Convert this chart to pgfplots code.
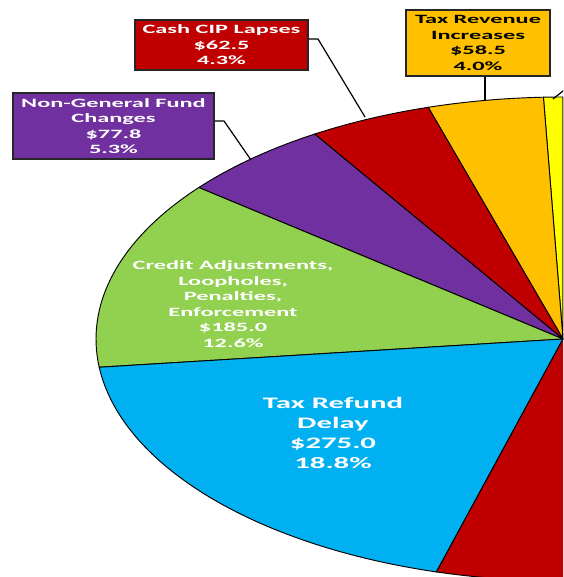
\documentclass[border=0pt]{standalone}
\usepackage{pgfplots}
\pgfplotsset{compat=1.18}
\usepackage{fontspec}
\setmainfont{Carlito}
\newfontfamily\lbl[FakeStretch=1.92]{Carlito}
\definecolor{cyel}{HTML}{FFFF00}
\definecolor{corg}{HTML}{FFC000}
\definecolor{cred}{HTML}{C00000}
\definecolor{cpur}{HTML}{7030A0}
\definecolor{cgrn}{HTML}{92D050}
\definecolor{cblu}{HTML}{00B0F0}
\definecolor{cgry}{HTML}{A5A5A5}
\begin{document}
\begin{tikzpicture}
% slice values ($ millions), counter-clockwise from 12 o'clock
\def\vYel{9.8}
\def\vOrg{58.5}
\def\vRed{62.5}
\def\vPur{77.8}
\def\vGrn{185.0}
\def\vBlu{275.0}
\def\vDrd{300.0}
\def\vOth{496.4}
\pgfmathsetmacro{\T}{\vYel+\vOrg+\vRed+\vPur+\vGrn+\vBlu+\vDrd+\vOth}
\pgfmathsetmacro{\aA}{90}
\pgfmathsetmacro{\aB}{\aA+\vYel/\T*360}
\pgfmathsetmacro{\aC}{\aB+\vOrg/\T*360}
\pgfmathsetmacro{\aD}{\aC+\vRed/\T*360}
\pgfmathsetmacro{\aE}{\aD+\vPur/\T*360}
\pgfmathsetmacro{\aF}{\aE+\vGrn/\T*360}
\pgfmathsetmacro{\aG}{\aF+\vBlu/\T*360}
\pgfmathsetmacro{\aH}{\aG+\vDrd/\T*360}
\pgfmathsetmacro{\aI}{450}
\def\cx{563}
\def\cy{238}
\def\rx{467}
\def\ry{242}
\begin{axis}[name=ax, scale only axis, width=422.25pt, height=432.75pt,
  xmin=0, xmax=563, ymin=0, ymax=577, hide axis, clip=true]
\pgfplotsset{every axis plot/.append style={draw=black, line width=0.7pt, samples=60}}
\addplot[fill=cyel, domain=\aA:\aB] ({\cx+\rx*cos(x)}, {\cy+\ry*sin(x)}) -- (axis cs:\cx,\cy) -- cycle;
\addplot[fill=corg, domain=\aB:\aC] ({\cx+\rx*cos(x)}, {\cy+\ry*sin(x)}) -- (axis cs:\cx,\cy) -- cycle;
\addplot[fill=cred, domain=\aC:\aD] ({\cx+\rx*cos(x)}, {\cy+\ry*sin(x)}) -- (axis cs:\cx,\cy) -- cycle;
\addplot[fill=cpur, domain=\aD:\aE] ({\cx+\rx*cos(x)}, {\cy+\ry*sin(x)}) -- (axis cs:\cx,\cy) -- cycle;
\addplot[fill=cgrn, domain=\aE:\aF] ({\cx+\rx*cos(x)}, {\cy+\ry*sin(x)}) -- (axis cs:\cx,\cy) -- cycle;
\addplot[fill=cblu, domain=\aF:\aG] ({\cx+\rx*cos(x)}, {\cy+\ry*sin(x)}) -- (axis cs:\cx,\cy) -- cycle;
\addplot[fill=cred, domain=\aG:\aH] ({\cx+\rx*cos(x)}, {\cy+\ry*sin(x)}) -- (axis cs:\cx,\cy) -- cycle;
\addplot[fill=cgry, domain=\aH:\aI] ({\cx+\rx*cos(x)}, {\cy+\ry*sin(x)}) -- (axis cs:\cx,\cy) -- cycle;
% leader lines
\draw[black, line width=0.9pt] (axis cs:308,538) -- (axis cs:318,538) -- (axis cs:365,460);
\draw[black, line width=0.9pt] (axis cs:485,501) -- (axis cs:485,476);
\draw[black, line width=0.9pt] (axis cs:214,456) -- (axis cs:224,456) -- (axis cs:251,417);
\draw[black, line width=0.9pt] (axis cs:553,478) -- (axis cs:568,490);
% labels
\tikzset{lab/.style={draw=black!85, line width=0.9pt, inner sep=0pt, align=center,
  font=\lbl\bfseries\fontsize{9.5}{11.6}\selectfont}}
\node[lab, fill=cred, text=white, minimum width=129.75pt, minimum height=37.5pt] at (axis cs:221.5,532) {Cash CIP Lapses\\\$62.5\\4.3\%};
\node[lab, fill=corg, text=black, minimum width=108pt, minimum height=49.5pt] at (axis cs:478,534) {Tax Revenue\\Increases\\\$58.5\\4.0\%};
\node[lab, fill=cpur, text=white, minimum width=150.75pt, minimum height=49.5pt] at (axis cs:113.5,451) {Non-General Fund\\Changes\\\$77.8\\5.3\%};
\node[align=center, text=white, inner sep=0pt, font=\lbl\bfseries\fontsize{9.5}{11.6}\selectfont] at (axis cs:233,273) {Credit Adjustments,\\Loopholes,\\Penalties,\\Enforcement\\\$185.0\\12.6\%};
\node[align=center, text=white, inner sep=0pt, font=\lbl\bfseries\fontsize{12}{15}\selectfont] at (axis cs:333,144) {Tax Refund\\Delay\\\$275.0\\18.8\%};
\end{axis}
\pgfresetboundingbox
\path (ax.south west) rectangle (ax.north east);
\end{tikzpicture}
\end{document}
